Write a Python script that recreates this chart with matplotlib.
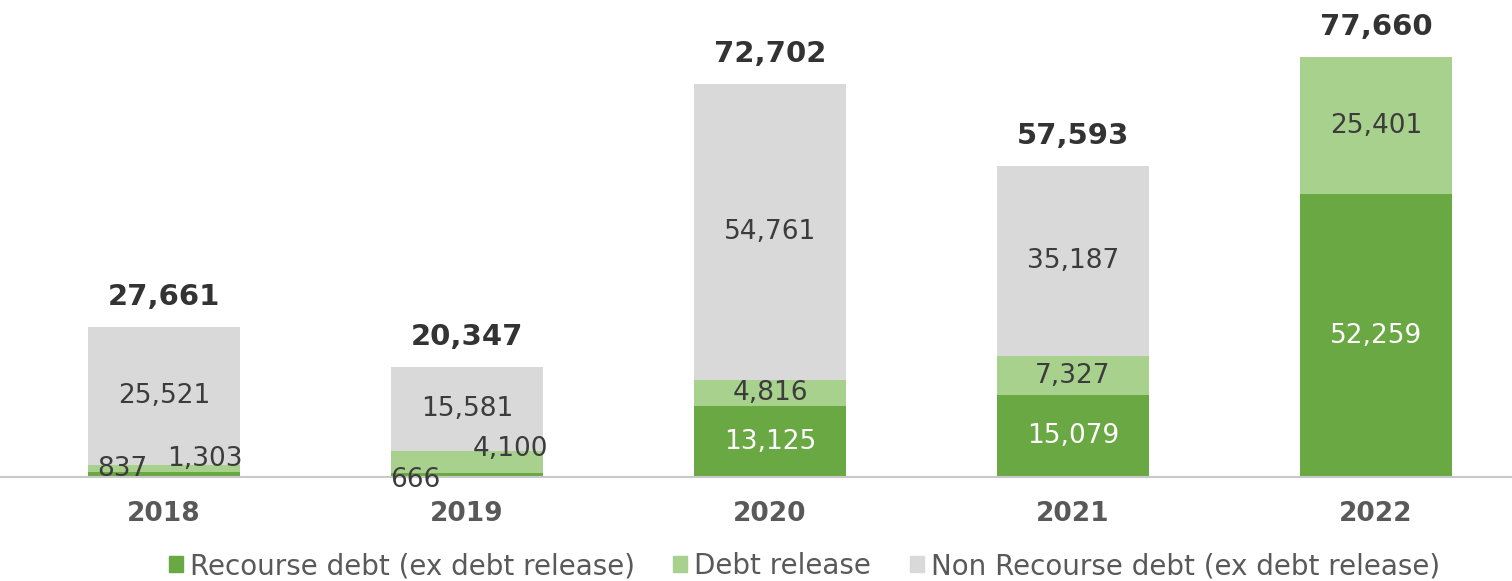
import matplotlib.pyplot as plt
from matplotlib.patches import Patch

years = ["2018", "2019", "2020", "2021", "2022"]
recourse = [837, 666, 13125, 15079, 52259]
release = [1303, 4100, 4816, 7327, 25401]
non_recourse = [25521, 15581, 54761, 35187, 0]
totals = [27661, 20347, 72702, 57593, 77660]

c_dark = "#6aa843"
c_light = "#a9d18e"
c_grey = "#d9d9d9"
txt = "#3c3c3c"

plt.rcParams['font.family'] = ['DejaVu Sans']

fig = plt.figure(figsize=(15.12, 5.81), dpi=100)
ax = fig.add_axes([0, 104 / 581, 1, 477 / 581])

x = list(range(len(years)))
w = 0.5
ax.bar(x, recourse, w, color=c_dark)
bottom2 = recourse
ax.bar(x, release, w, bottom=bottom2, color=c_light)
bottom3 = [a + b for a, b in zip(recourse, release)]
ax.bar(x, non_recourse, w, bottom=bottom3, color=c_grey)

def fmt(v):
    return f"{v:,}"

# offsets (pixels) for the thin segments whose labels sit outside
small = {
    (0, 0): (-42, 6), (0, 1): (41, 10),
    (1, 0): (-52, -5), (1, 1): (43, 13),
}

series = [(recourse, [0] * 5, "white"), (release, bottom2, txt), (non_recourse, bottom3, txt)]
for s, (vals, bots, col) in enumerate(series):
    for i, v in enumerate(vals):
        if v == 0:
            continue
        yc = bots[i] + v / 2
        if (i, s) in small:
            dx, dy = small[(i, s)]
            ax.annotate(fmt(v), (i, yc), xytext=(dx, dy), textcoords='offset pixels',
                        ha='center', va='center', fontsize=19, color=txt)
        else:
            ax.text(i, yc, fmt(v), ha='center', va='center', fontsize=19, color=col)

for i, t in enumerate(totals):
    ax.annotate(fmt(t), (i, t), xytext=(0, 30), textcoords='offset pixels',
                ha='center', va='center', fontsize=21, fontweight='bold', color="#333333")

for i, yr in enumerate(years):
    ax.annotate(yr, (i, 0), xytext=(0, -37), textcoords='offset pixels',
                ha='center', va='center', fontsize=19, fontweight='bold', color="#595959",
                annotation_clip=False)

ax.set_xlim(-164 / 303, (1512 - 164) / 303)
ax.set_ylim(0, 88200)
for sp in ["top", "right", "left"]:
    ax.spines[sp].set_visible(False)
ax.spines["bottom"].set_color("#c8c8c8")
ax.spines["bottom"].set_linewidth(1.5)
ax.set_xticks([])
ax.set_yticks([])
ax.patch.set_alpha(0)

handles = [Patch(color=c_dark), Patch(color=c_light), Patch(color=c_grey)]
labels = ["Recourse debt (ex debt release)", "Debt release", "Non Recourse debt (ex debt release)"]
fig.legend(handles, labels, loc='center', bbox_to_anchor=(0.532, 15 / 581),
           ncol=3, frameon=False, fontsize=20, handlelength=0.5, handleheight=0.5,
           handletextpad=0.25, columnspacing=1.4, labelcolor="#595959")

fig.savefig("out.png", dpi=100)
